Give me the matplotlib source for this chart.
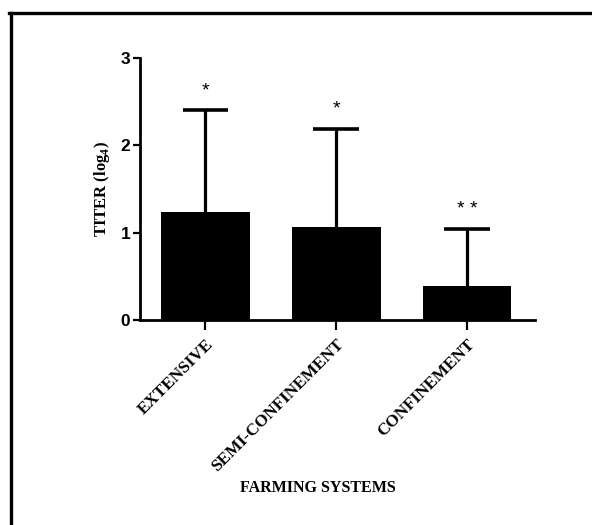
import matplotlib
matplotlib.use("Agg")
import matplotlib.pyplot as plt
from matplotlib.lines import Line2D

plt.rcParams["mathtext.fontset"] = "custom"
plt.rcParams["mathtext.rm"] = "Liberation Serif:bold"
plt.rcParams["mathtext.bf"] = "Liberation Serif:bold"

categories = ["EXTENSIVE", "SEMI-CONFINEMENT", "CONFINEMENT"]
means = [1.24, 1.07, 0.39]
sd_upper = [1.16, 1.12, 0.65]
stars = ["*", "*", "* *"]
yticks = [0, 1, 2, 3]

W, H = 592, 525
fig = plt.figure(figsize=(W / 100, H / 100), dpi=100)
ax = fig.add_axes([140 / W, 1 - 320 / H, (535 - 140) / W, (320 - 58) / H])

x = list(range(len(categories)))
ax.bar(x, means, width=0.68, color="black", zorder=2)
tops = [m + s for m, s in zip(means, sd_upper)]
ax.vlines(x, means, tops, color="black", lw=2.3, zorder=1)
ax.hlines(tops, [xi - 0.175 for xi in x], [xi + 0.175 for xi in x],
          color="black", lw=2.6, zorder=1)
for xi, t, st in zip(x, tops, stars):
    ax.text(xi, t + 0.13, st, ha="center", va="bottom",
            fontsize=14, family="Liberation Sans")

ax.set_xlim(-0.5, 2.52)
ax.set_ylim(0, 3)
ax.set_yticks(yticks)
ax.set_yticklabels([str(v) for v in yticks], fontsize=12.5, fontweight="bold",
                   family="Liberation Sans")
ax.set_xticks(x)
ax.set_xticklabels(categories, rotation=45, ha="right", rotation_mode="anchor",
                   fontsize=12.3, fontweight="bold", family="Liberation Serif")
ax.tick_params(axis="both", direction="out", length=5, width=1.6)
ax.tick_params(axis="x", length=7, pad=5)
ax.tick_params(axis="y", pad=2)
for side in ["top", "right"]:
    ax.spines[side].set_visible(False)
for side in ["left", "bottom"]:
    ax.spines[side].set_linewidth(2)

ax.set_ylabel(r"TITER (log$_\mathrm{4}$)", fontsize=12, fontweight="bold",
              family="Liberation Serif", labelpad=6)
fig.text(318 / W, 1 - 488 / H, "FARMING SYSTEMS", ha="center", va="center",
         fontsize=11.5, fontweight="bold", family="Liberation Serif")

fig.add_artist(Line2D([10.5 / W, 10.5 / W], [0, 1 - 12.5 / H], color="black",
                      lw=2.4, transform=fig.transFigure))
fig.add_artist(Line2D([9 / W, 1], [1 - 12.5 / H, 1 - 12.5 / H], color="black",
                      lw=2.4, transform=fig.transFigure))

fig.savefig("out.png", dpi=100)
